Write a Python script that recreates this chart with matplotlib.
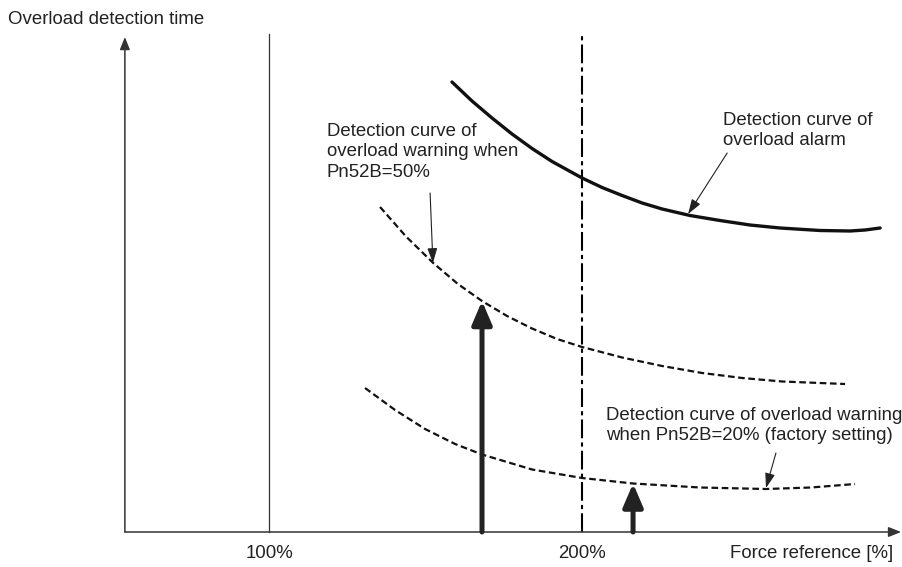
import matplotlib.pyplot as plt

plt.rcParams['font.family'] = ['Liberation Sans', 'DejaVu Sans']

# force reference [%] and detection time (arbitrary units)
alarm_x = [158.5, 164.9, 171.3, 177.7, 184.1, 190.5, 200.1, 206.5, 212.9, 219.3,
           225.7, 234.6, 244.2, 253.8, 263.4, 276.2, 285.8, 290.6, 295.4]
alarm_y = [90.0, 86.2, 82.8, 79.6, 76.7, 74.1, 70.8, 68.9, 67.3, 65.8,
           64.6, 63.3, 62.3, 61.4, 60.8, 60.3, 60.2, 60.4, 60.8]

warn50_x = [135.5, 143.8, 152.5, 160.4, 168.1, 176.1, 184.1, 192.1, 200.1,
            212.9, 225.7, 238.5, 251.3, 264.1, 284.2]
warn50_y = [65.0, 59.1, 53.8, 49.6, 46.2, 43.2, 40.7, 38.6, 37.0,
            34.9, 33.2, 31.8, 30.8, 30.1, 29.6]

warn20_x = [130.7, 140.3, 149.9, 159.5, 168.1, 184.1, 200.1, 216.4, 237.8,
            258.9, 273.3, 287.4]
warn20_y = [28.8, 24.4, 20.6, 17.6, 15.5, 12.5, 10.8, 9.7, 8.9,
            8.6, 8.9, 9.6]

# thick arrows: force where they point, and the curve value they reach
arrow_x = [168.1, 216.4]
arrow_y = [46.2, 9.7]

tick_pos = [100, 200]
tick_labels = ['100%', '200%']

fig = plt.figure(figsize=(9.02, 5.67), dpi=100)
ax = fig.add_axes([0, 0, 1, 1])
ax.set_xlim(13.97, 302.4)
ax.set_ylim(-7, 106.4)
ax.axis('off')

# axes with arrow heads
ax.annotate('', xy=(302.1, 0), xytext=(53.9, 0),
            arrowprops=dict(arrowstyle='-|>,head_length=0.75,head_width=0.3',
                            color='#333333', lw=1.1, shrinkA=0, shrinkB=0))
ax.annotate('', xy=(53.9, 99), xytext=(53.9, 0),
            arrowprops=dict(arrowstyle='-|>,head_length=0.75,head_width=0.3',
                            color='#333333', lw=1.1, shrinkA=0, shrinkB=0))

# reference lines at 100% and 200%
ax.plot([100, 100], [0, 99.6], color='#333333', lw=0.9)
ax.plot([200, 200], [0, 99.6], color='black', lw=1.5, ls=(0, (9, 2, 2, 2)))

# curves
ax.plot(alarm_x, alarm_y, color='#111111', lw=2.4, solid_capstyle='round')
ax.plot(warn50_x, warn50_y, color='#111111', lw=1.6, ls=(0, (3, 1.6)))
ax.plot(warn20_x, warn20_y, color='#111111', lw=1.6, ls=(0, (3, 1.6)))

# thick upward arrows
for x, y in zip(arrow_x, arrow_y):
    ax.annotate('', xy=(x, y), xytext=(x, 0),
                arrowprops=dict(arrowstyle='-|>,head_length=1.4,head_width=0.6',
                                color='#222222', lw=3.6, shrinkA=0, shrinkB=0,
                                capstyle='round'))

# callout arrows
thin = dict(arrowstyle='-|>,head_length=0.9,head_width=0.3', color='#222222',
            lw=0.8, shrinkA=0, shrinkB=0)
ax.annotate('', xy=(152.4, 53.8), xytext=(151.5, 67.8), arrowprops=thin)
ax.annotate('', xy=(234.0, 63.6), xytext=(246.5, 75.8), arrowprops=thin)
ax.annotate('', xy=(258.9, 8.8), xytext=(262.1, 15.8), arrowprops=thin)

fs = 13.4
ls_txt = 1.25
ax.text(16.5, 102.6, 'Overload detection time', fontsize=fs, va='center', ha='left',
        color='#222222')
ax.text(118.5, 76, 'Detection curve of\noverload warning when\nPn52B=50%',
        fontsize=fs, va='center', ha='left', linespacing=ls_txt, color='#222222')
ax.text(245.2, 80.3, 'Detection curve of\noverload alarm',
        fontsize=fs, va='center', ha='left', linespacing=ls_txt, color='#222222')
ax.text(207.8, 21.3, 'Detection curve of overload warning\nwhen Pn52B=20% (factory setting)',
        fontsize=fs, va='center', ha='left', linespacing=ls_txt, color='#222222')

for pos, lab in zip(tick_pos, tick_labels):
    ax.text(pos, -4.4, lab, fontsize=fs, ha='center', va='center', color='#222222')
ax.text(299.5, -4.4, 'Force reference [%]', fontsize=fs, ha='right', va='center',
        color='#222222')

fig.savefig('out.png', dpi=100)
